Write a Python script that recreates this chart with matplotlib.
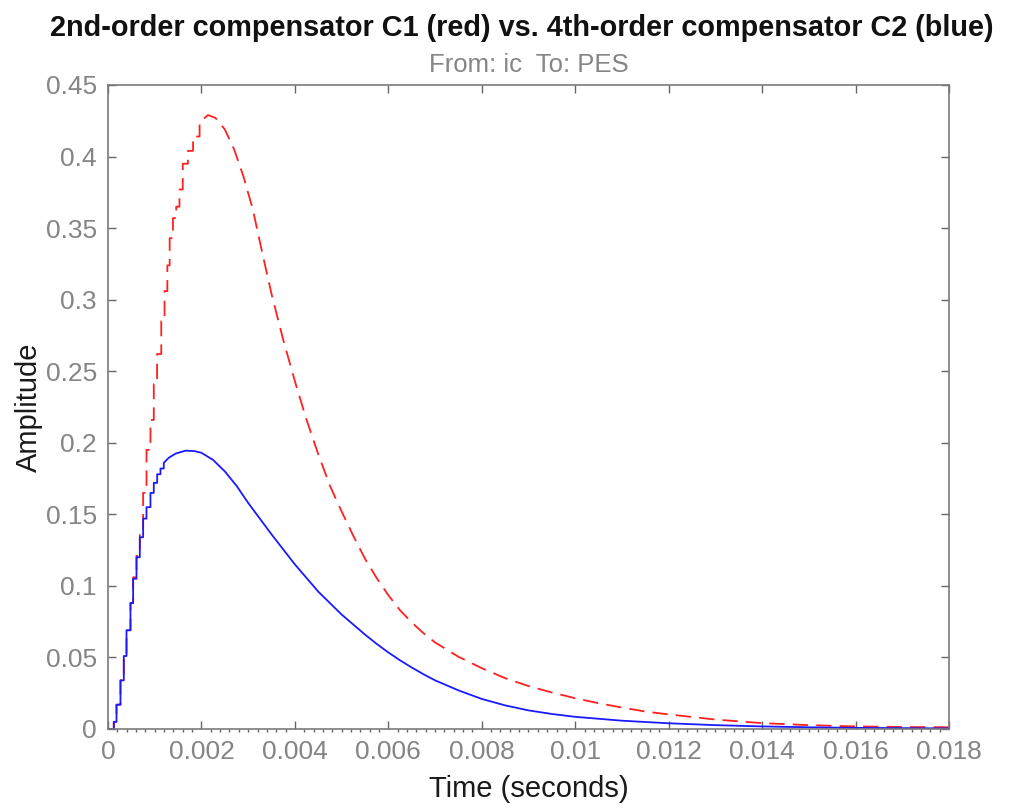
import matplotlib.pyplot as plt
import numpy as np

plt.switch_backend("Agg")

# Time in milliseconds
# C2 (blue) - stair-stepped rise
blue_rise_t = [0.0, 0.124, 0.182, 0.267, 0.338, 0.396, 0.481, 0.538, 0.610,
               0.681, 0.752, 0.824, 0.909, 0.980, 1.052, 1.123, 1.194]
blue_rise_v = [0.0, 0.005, 0.017, 0.034, 0.051, 0.069, 0.088, 0.105, 0.120,
               0.134, 0.147, 0.155, 0.165, 0.172, 0.178, 0.182, 0.186]
# C2 (blue) - smooth tail
blue_tail_t = [1.30, 1.45, 1.66, 1.85, 2.0, 2.25, 2.5, 2.75, 3.0, 3.5, 4.0,
               4.5, 5.0, 5.25, 5.5, 5.75, 6.0, 6.25, 6.5, 6.75, 7.0, 7.5, 8.0,
               8.5, 9.0, 9.5, 10.0, 11.0, 12.0, 13.0, 14.0, 15.0, 16.0, 18.0]
blue_tail_v = [0.1895, 0.1925, 0.1945, 0.1942, 0.193, 0.188, 0.180, 0.170,
               0.158, 0.136, 0.115, 0.096, 0.080, 0.073, 0.066, 0.0595, 0.0535,
               0.048, 0.0430, 0.0383, 0.034, 0.027, 0.021, 0.0165, 0.013,
               0.0105, 0.0085, 0.0058, 0.0040, 0.0027, 0.0018, 0.0012, 0.0008,
               0.0004]

# C1 (red) - stair-stepped rise
red_rise_t = [0.0, 0.124, 0.182, 0.267, 0.338, 0.396, 0.481, 0.538, 0.610,
              0.681, 0.752, 0.824, 0.909, 0.980, 1.050, 1.140, 1.210, 1.270,
              1.320, 1.390, 1.460, 1.530, 1.600, 1.710, 1.820, 1.960]
red_rise_v = [0.0, 0.005, 0.017, 0.034, 0.051, 0.069, 0.088, 0.106, 0.121,
              0.140, 0.165, 0.195, 0.216, 0.241, 0.262, 0.285, 0.306, 0.324,
              0.343, 0.357, 0.365, 0.377, 0.395, 0.404, 0.414, 0.424]
# C1 (red) - smooth tail
red_tail_t = [2.14, 2.3, 2.5, 2.7, 2.9, 3.1, 3.3, 3.5, 3.75, 4.0, 4.25, 4.5,
              4.75, 5.0, 5.25, 5.5, 5.75, 6.0, 6.25, 6.5, 6.75, 7.0, 7.5, 8.0,
              8.5, 9.0, 9.5, 10.0, 10.5, 11.0, 11.5, 12.0, 13.0, 14.0, 15.0,
              16.0, 17.0, 18.0]
red_tail_v = [0.429, 0.427, 0.419, 0.405, 0.386, 0.363, 0.333, 0.304, 0.272,
              0.243, 0.216, 0.192, 0.170, 0.152, 0.135, 0.119, 0.1055, 0.0935,
              0.083, 0.0745, 0.067, 0.0605, 0.0505, 0.0425, 0.0355, 0.030,
              0.0255, 0.0215, 0.018, 0.015, 0.0122, 0.0102, 0.0066, 0.0041,
              0.0027, 0.0018, 0.0014, 0.0012]

x_ticks = [0, 0.002, 0.004, 0.006, 0.008, 0.01, 0.012, 0.014, 0.016, 0.018]
x_ticklabels = ["0", "0.002", "0.004", "0.006", "0.008", "0.01", "0.012",
                "0.014", "0.016", "0.018"]
y_ticks = [0, 0.05, 0.1, 0.15, 0.2, 0.25, 0.3, 0.35, 0.4, 0.45]
y_ticklabels = ["0", "0.05", "0.1", "0.15", "0.2", "0.25", "0.3", "0.35",
                "0.4", "0.45"]


def _stairs_then_line(rise_t, rise_v, tail_t, tail_v):
    rt = np.asarray(rise_t) / 1000.0
    rv = np.asarray(rise_v)
    # build step vertices (hold previous value until next sample)
    st = np.repeat(rt, 2)[1:]
    sv = np.repeat(rv, 2)[:-1]
    t = np.concatenate([st, np.asarray(tail_t) / 1000.0])
    v = np.concatenate([sv, np.asarray(tail_v)])
    return t, v


plt.rcParams["font.family"] = ["Liberation Sans", "DejaVu Sans"]
gray = "#858585"

fig = plt.figure(figsize=(10.12, 8.11), dpi=100)
ax = fig.add_axes([108 / 1012, 82 / 811, 841 / 1012, 644 / 811])

rt, rv = _stairs_then_line(red_rise_t, red_rise_v, red_tail_t, red_tail_v)
bt, bv = _stairs_then_line(blue_rise_t, blue_rise_v, blue_tail_t, blue_tail_v)

ax.plot(rt, rv, color="#ff2020", linewidth=1.3, dashes=(8.5, 4.5))
ax.plot(bt, bv, color="#1a1aff", linewidth=1.3)

ax.set_xlim(0, 0.018)
ax.set_ylim(0, 0.45)
ax.set_xticks(x_ticks)
ax.set_xticklabels(x_ticklabels)
ax.set_yticks(y_ticks)
ax.set_yticklabels(y_ticklabels)
ax.set_xticks(np.arange(0, 0.0181, 0.0002), minor=True)

ax.tick_params(which="major", direction="in", length=6, width=1, color="#666666",
               top=True, right=True, labelsize=19, labelcolor=gray, pad=8)
ax.tick_params(axis="x", which="minor", direction="out", length=2.5,
               width=1, color="#666666", top=False)
ax.tick_params(axis="y", which="minor", left=False, right=False)
for spine in ax.spines.values():
    spine.set_color("#7a7a7a")
    spine.set_linewidth(1.2)

ax.set_xlabel("Time (seconds)", fontsize=21, color="#1a1a1a", labelpad=8)
ax.set_ylabel("Amplitude", fontsize=21, color="#1a1a1a", labelpad=2)

fig.text(0.516, 0.965, "2nd-order compensator C1 (red) vs. 4th-order compensator C2 (blue)",
         ha="center", va="center", fontsize=20.8, fontweight="bold",
         color="#111111")
fig.text(0.523, 0.92, "From: ic  To: PES", ha="center", va="center",
         fontsize=18.5, color=gray)

fig.savefig("out.png", dpi=100)
plt.close(fig)
